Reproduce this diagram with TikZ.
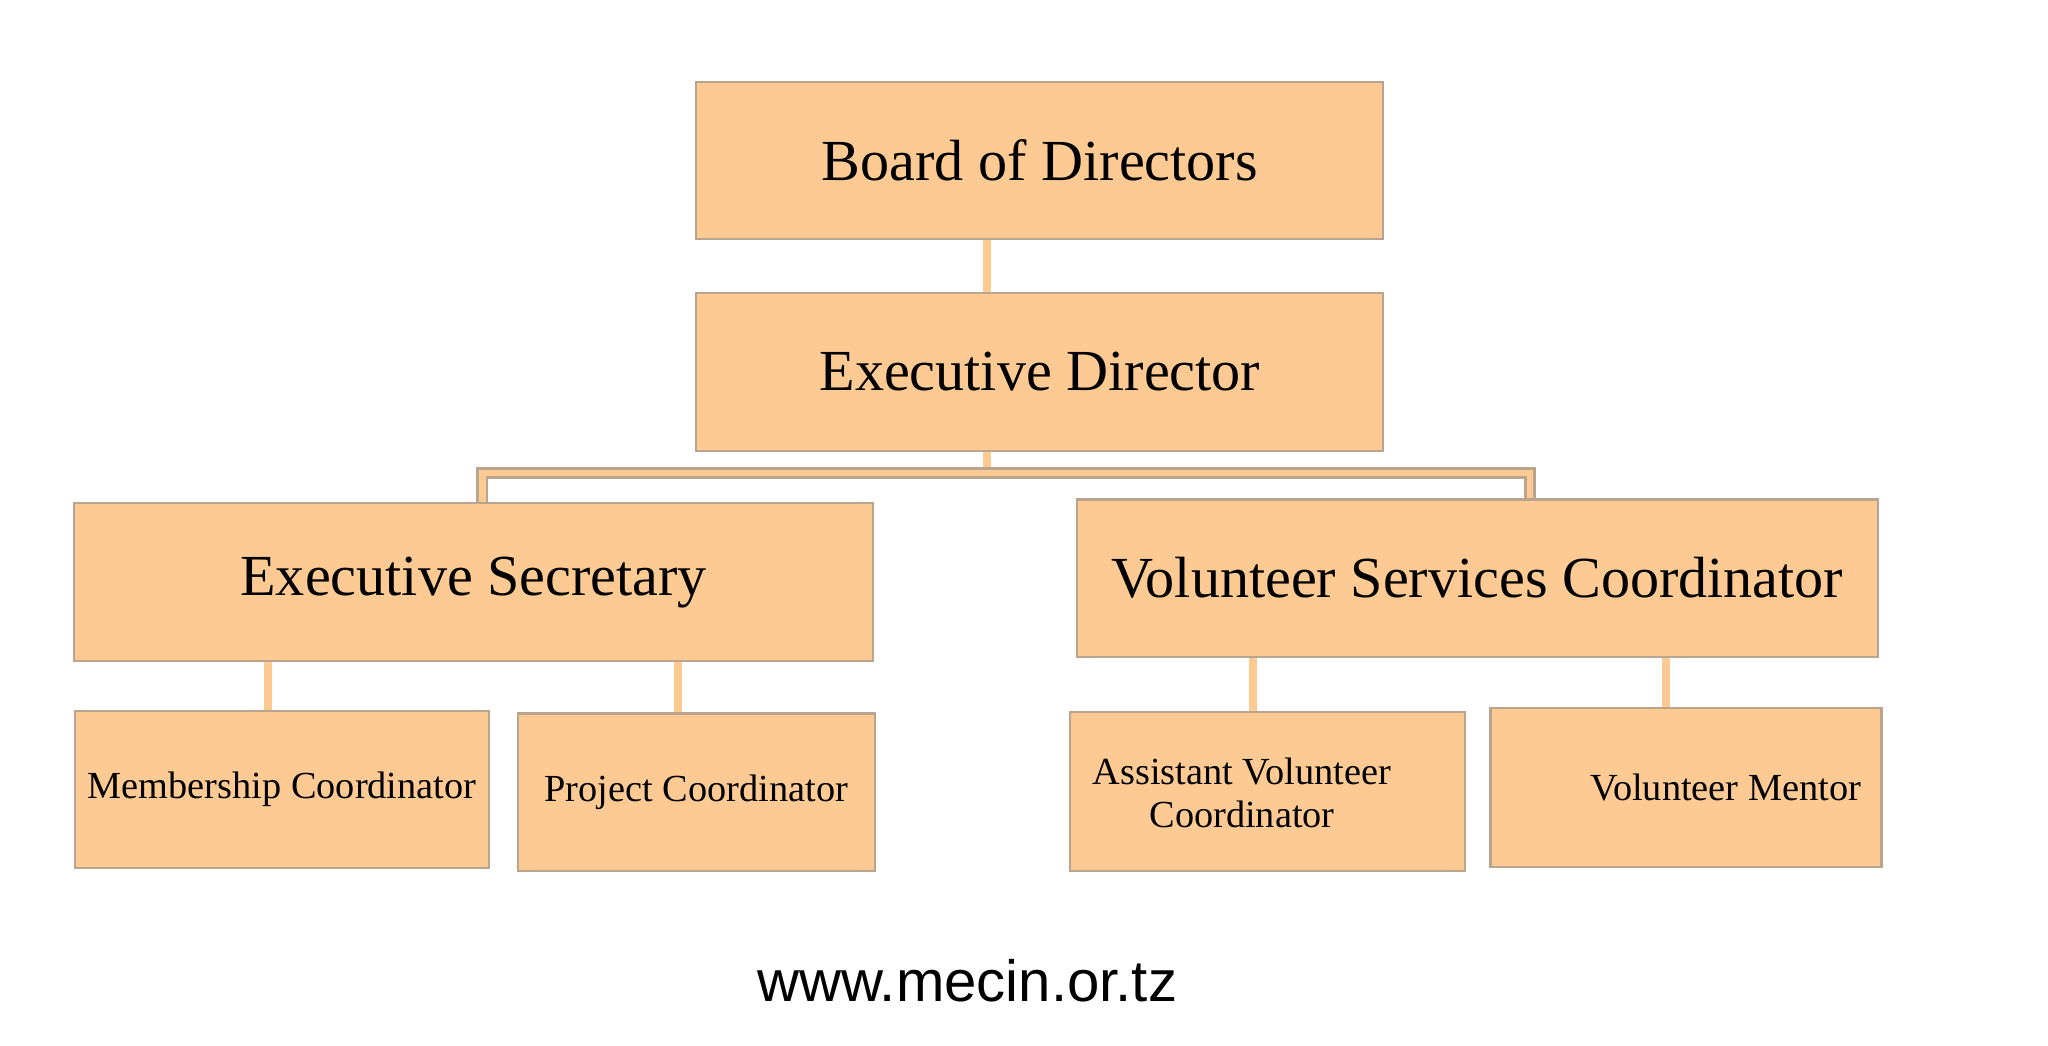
\documentclass[tikz,border=0pt]{standalone}
\usepackage{fontspec}
\setmainfont{Liberation Serif}
\newfontfamily\urlfont{Liberation Sans}
\definecolor{peach}{HTML}{FDCA93}
\definecolor{edge}{HTML}{B9A48E}
\begin{document}
\begin{tikzpicture}[x=0.5pt,y=-0.5pt,
  box/.style={draw=edge,line width=0.8pt,fill=peach},
  conn/.style={draw=peach,line width=3pt}]
\useasboundingbox (0,0) rectangle (1550,791);
\fill[white] (0,0) rectangle (1550,791);
% connectors
\coordinate (bar1) at (747,358);
\coordinate (barL) at (365,358);
\coordinate (barR) at (1158,358);
\draw[conn] (747,181) -- (747,222);
\draw[conn] (747,341) -- (bar1);
\draw[edge,line width=4.5pt] (barL|-{0,381}) -- (barL) -- (barR) -- (barR|-{0,378});
\draw[peach,line width=2.5pt] (barL|-{0,381}) -- (barL) -- (barR) -- (barR|-{0,378});
\draw[conn] (203,500) -- (203,538);
\draw[conn] (513,500) -- (513,540);
\draw[conn] (948,497) -- (948,539);
\draw[conn] (1261,497) -- (1261,536);
% boxes
\draw[box] (527,62) rectangle (1047,181) node[midway,font=\fontsize{22}{24}\selectfont] (bod) {Board of Directors};
\draw[box] (527,222) rectangle (1047,341) node[midway,font=\fontsize{22}{24}\selectfont] (ed) {Executive Director};
\draw[box] (56,381) rectangle (661,500) node[midway,font=\fontsize{22}{24}\selectfont] (es) {Executive Secretary};
\draw[box] (815,378) rectangle (1421,497) node[midway,font=\fontsize{22}{24}\selectfont] (vsc) {Volunteer Services Coordinator};
\draw[box] (57,538) rectangle (370,657) node[midway,font=\fontsize{14.5}{16}\selectfont] (mc) {Membership Coordinator};
\draw[box] (392,540) rectangle (662,659) node[midway,font=\fontsize{14.5}{16}\selectfont] (pc) {Project Coordinator};
\draw[box] (810,539) rectangle (1109,659);
\node[font=\fontsize{14.5}{16}\selectfont,align=center] (avc) at (940,600) {Assistant Volunteer\\Coordinator};
\draw[box] (1128,536) rectangle (1424,656) node[midway,xshift=15,yshift=0,font=\fontsize{14.5}{16}\selectfont] (vm) {Volunteer Mentor};
\node[font=\urlfont\fontsize{22}{24}\selectfont] (url) at (732,742) {www.mecin.or.tz};
\end{tikzpicture}
\end{document}
